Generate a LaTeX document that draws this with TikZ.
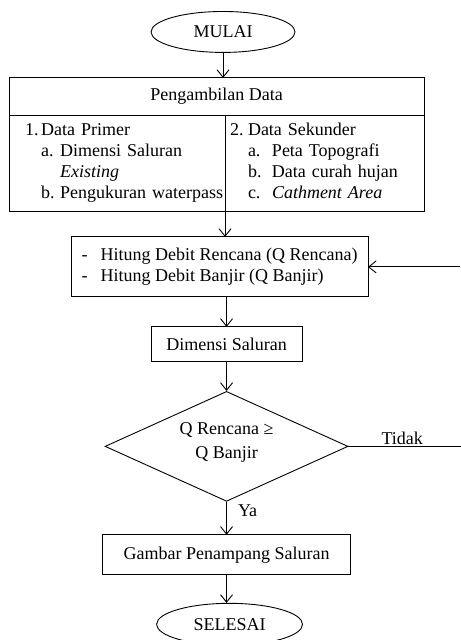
\documentclass[tikz,border=0pt]{standalone}
\usepackage{fontspec}
\setmainfont{Liberation Serif}
\usetikzlibrary{positioning,shapes.geometric,arrows.meta}
\newcommand{\lbl}[2]{\makebox[#1][l]{#2}}

\begin{document}
\begin{tikzpicture}[line width=0.6pt, >={Straight Barb[length=5pt,width=8pt]},
   font=\fontsize{12pt}{14pt}\selectfont,
   terminal/.style={draw, ellipse, inner sep=0pt},
   proses/.style={draw, rectangle, inner xsep=0pt, outer sep=0pt, align=left},
   kolom/.style={draw, rectangle, minimum height=64pt, inner ysep=0pt, outer sep=0pt, align=left},
   keputusan/.style={draw, diamond, shape aspect=2.2, inner sep=0pt, align=center}]
   \useasboundingbox (0,0) rectangle (306.7pt,-426.7pt);
   \node[terminal, minimum width=96pt, minimum height=27.3pt] (mulai) at (148.7pt,-21.3pt) {MULAI};
   \node[proses, minimum width=276.7pt, minimum height=24.7pt] (ambil) [below=16.7pt of mulai, xshift=-4.3pt] {Pengambilan Data};
   \node[kolom, minimum width=144pt, text width=122.6pt, inner xsep=10.7pt] (primer) [below right=0pt and 0pt of ambil.south west]
      {\noindent\begin{tabular}{@{}l@{}}
       \lbl{10.7pt}{1.}Data Primer\\
       \hspace*{10.7pt}\lbl{12.7pt}{a.}Dimensi Saluran\\
       \hspace*{23.4pt}\textit{Existing}\\
       \hspace*{10.7pt}\lbl{12.7pt}{b.}Pengukuran waterpass
       \end{tabular}};
   \node[kolom, minimum width=132.7pt, text width=126.1pt, inner xsep=3.3pt] (sekunder) [right=0pt of primer]
      {\noindent\begin{tabular}{@{}l@{}}
       \lbl{12pt}{2.}Data Sekunder\\
       \hspace*{12pt}\lbl{16pt}{a.}Peta Topografi\\
       \hspace*{12pt}\lbl{16pt}{b.}Data curah hujan\\
       \hspace*{12pt}\lbl{16pt}{c.}\textit{Cathment Area}
       \end{tabular}};
   \node[proses, minimum width=198pt, minimum height=40pt] (hitung) [below=17.3pt of primer.south east, xshift=-3.7pt]
      {\lbl{12.7pt}{-}Hitung Debit Rencana (Q Rencana)\\
       \lbl{12.7pt}{-}Hitung Debit Banjir (Q Banjir)};
   \node[proses, minimum width=100.7pt, minimum height=22.7pt] (dimensi) [below=20pt of hitung, xshift=4.7pt] {Dimensi Saluran};
   \node[keputusan, minimum width=162pt, minimum height=73.3pt] (cek) [below=20pt of dimensi] {Q Rencana ≥\\[2pt] Q Banjir\\[-6pt]\mbox{}};
   \node[proses, minimum width=165.3pt, minimum height=26.7pt] (gambar) [below=22pt of cek] {Gambar Penampang Saluran};
   \node[terminal, minimum width=97.3pt, minimum height=28pt] (selesai) [below=18.7pt of gambar, xshift=2pt] {SELESAI};
   \coordinate[right=61.3pt of hitung.east] (balik);
   \coordinate[right=74.7pt of cek.east] (tidak);
    \path[->]
    (mulai)   edge (mulai |- ambil.north)
    (primer.south east) edge (primer.south east |- hitung.north)
    (hitung.south -| dimensi) edge (dimensi)
    (dimensi) edge (cek)
    (cek)     edge node[right=4pt, pos=0.28] {Ya} (gambar)
    (gambar)  edge (gambar |- selesai.north)
    (balik)   edge (hitung.east |- balik);
    \path
    (cek.east) edge node[above, inner sep=1pt, pos=0.48] {Tidak} (tidak);
\end{tikzpicture}
\end{document}
